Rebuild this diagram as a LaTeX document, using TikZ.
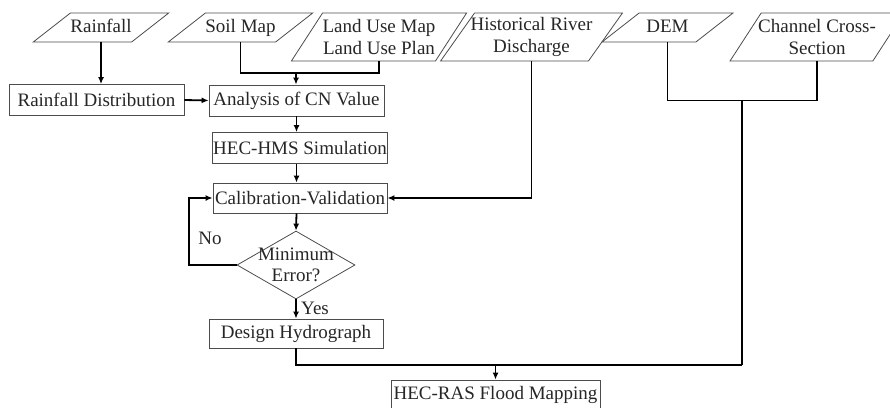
\documentclass[tikz,border=0pt]{standalone}
\usepackage{fontspec}
\setmainfont{Liberation Serif}
\usetikzlibrary{shapes.geometric,arrows.meta}
\begin{document}
\begin{tikzpicture}[x=1pt,y=-1pt,
		font=\fontsize{19}{21.5}\selectfont, text=black!85,
		datasingle/.style={trapezium, trapezium left angle=38, trapezium right angle=142, trapezium stretches body,
			draw=black!70, line width=0.8pt, inner xsep=0pt, inner ysep=6pt, text height=13pt, text depth=4pt, minimum height=29},
		datadouble/.style={trapezium, trapezium left angle=54, trapezium right angle=126, trapezium stretches body,
			draw=black!70, line width=0.8pt, inner xsep=0pt, inner ysep=4pt, minimum height=48, align=center},
		procbox/.style={rectangle, draw=black!70, line width=0.8pt, inner sep=1pt},
		decbox/.style={diamond, draw=black!70, line width=0.8pt, inner xsep=-8pt, inner ysep=-8pt, align=center, aspect=1.7},
		flow/.style={line width=1.8pt, -{Latex[length=7pt,width=6pt]}},
		link/.style={line width=1.8pt}]
			\clip (0,0) rectangle (890,407);
			\node[datasingle, minimum width=132] (rain) at (101,27.5) {Rainfall};
			\node[datasingle, minimum width=131] (soil) at (240.5,27.5) {Soil Map};
			\node[datadouble, minimum width=168] (landuse) at (379,37) {Land Use Map\\Land Use Plan};
			\node[datadouble, minimum width=168, inner xsep=-4pt] (hist) at (531.5,37) {Historical River\\Discharge};
			\node[datasingle, minimum width=131] (dem) at (667.5,27.5) {DEM};
			\node[datadouble, minimum width=164, inner xsep=-3pt] (chan) at (817,37) {Channel Cross-\\Section};
			\node[procbox, minimum width=175, minimum height=31] (rdist) at (96.5,100) {Rainfall Distribution};
			\node[procbox, minimum width=175, minimum height=31] (cn) at (296.5,100.5) {Analysis of CN Value};
			\node[procbox, minimum width=175, minimum height=31] (hms) at (300,148) {HEC-HMS Simulation};
			\node[procbox, minimum width=174, minimum height=30] (calib) at (300,198) {Calibration-Validation};
			\node[decbox, minimum width=118, minimum height=68] (err) at (296,265) {Minimum\\Error?};
			\node[procbox, minimum width=174, minimum height=29] (design) at (296,333.5) {Design Hydrograph};
			\node[procbox, minimum width=209, minimum height=30] (ras) at (495.5,395) {HEC-RAS Flood Mapping};
			\coordinate (cnjoin) at (296,73);
			\coordinate (rastop) at (742,100.5);
			\coordinate (rasjoin) at (742,365);
			\draw[flow] (rain.south) -- (rain.south |- rdist.north);
			\draw[link] (soil.south) |- (cnjoin) -| (landuse.south);
			\draw[flow] (cnjoin) -- (cnjoin |- cn.north);
			\draw[flow] (rdist.east) -- (cn.west);
			\draw[flow] (cn.south) -- (cn.south |- hms.north);
			\draw[flow] (cn.south |- hms.south) -- (cn.south |- calib.north);
			\draw[flow] (hist.south) |- (calib.east);
			\draw[flow] (cn.south |- calib.south) -- (err.north);
			\draw[flow] (err.west) -- ++(-48,0) |- (calib.west);
			\node (no) at (210,238) {No};
			\draw[flow] (err.south) -- (design.north);
			\node[anchor=west, inner sep=0pt] (yes) at (301,308) {Yes};
			\draw[link] (dem.south) |- (rastop) -| (chan.south);
			\draw[link] (rastop) -- (rasjoin);
			\draw[link] (design.south) |- (rasjoin);
			\draw[flow] (ras.north |- rasjoin) -- (ras.north);
		\end{tikzpicture}
\end{document}
